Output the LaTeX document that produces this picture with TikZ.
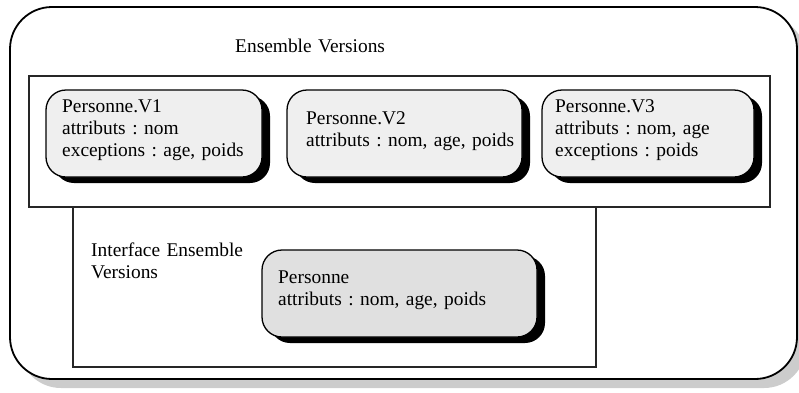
\documentclass[tikz,border=0pt]{standalone}
\usepackage{fontspec}
\setmainfont{Liberation Serif}
\usetikzlibrary{shadows}
\definecolor{versfill}{HTML}{EFEFEF}
\definecolor{ifacefill}{HTML}{E0E0E0}
\frenchspacing
\begin{document}
\begin{tikzpicture}[x=1pt,y=-1pt,
  frame/.style={draw=black!85, line width=1.4pt, rectangle, inner sep=0pt},
  outerbox/.style={draw=black, line width=1.8pt, fill=white, rectangle, rounded corners=42pt,
    inner sep=0pt, drop shadow={shadow xshift=9pt, shadow yshift=-9pt, fill=black!20, opacity=1}},
  versbox/.style={draw=black, line width=1.3pt, fill=versfill, rectangle, rounded corners=20pt,
    inner sep=0pt, minimum height=87pt,
    drop shadow={shadow xshift=8pt, shadow yshift=-6pt, fill=black, opacity=1}},
  ifacebox/.style={versbox, fill=ifacefill},
  txt/.style={anchor=base west, inner sep=0pt, text width=300pt, align=left,
    font=\fontsize{19.4}{22}\selectfont}]
\useasboundingbox (0,0) rectangle (799,392);

% outer container
\node[outerbox, minimum width=787pt, minimum height=372pt] (outer) at (403.5,193) {};

% version set and interface frames
\node[frame, minimum width=523pt, minimum height=160pt] (iface) at (334.5,287) {};
\node[frame, minimum width=741pt, minimum height=131pt] (ens) at (399.5,141.5) {};

% versions
\node[versbox, minimum width=216pt] (v1) at (154,133.5) {};
\node[versbox, minimum width=235pt] (v2) at (404.5,133.5) {};
\node[versbox, minimum width=212pt] (v3) at (648,133.5) {};
\node[ifacebox, minimum width=275pt] (pers) at (399.5,293.5) {};

% labels
\node[txt] (tens) at (235,52) {Ensemble Versions};
\node[txt] (tv1) at (62,112.5) {Personne.V1\\attributs : nom\\exceptions : age, poids};
\node[txt] (tv2) at (306,124) {Personne.V2\\attributs : nom, age, poids};
\node[txt] (tv3) at (555,112) {Personne.V3\\attributs : nom, age\\exceptions : poids};
\node[txt] (tiface) at (91,256) {Interface Ensemble\\Versions};
\node[txt] (tpers) at (278,283.5) {Personne\\attributs : nom, age, poids};
\end{tikzpicture}
\end{document}
